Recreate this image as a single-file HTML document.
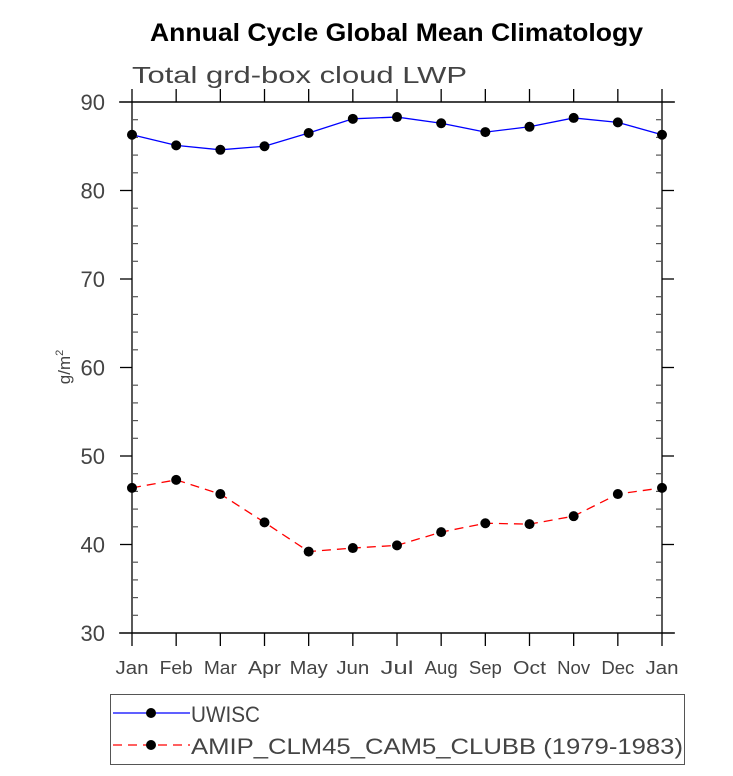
<!DOCTYPE html>
<html><head><meta charset="utf-8"><style>
body{margin:0;background:#fff;width:733px;height:771px;overflow:hidden}
text{font-family:"Liberation Sans",sans-serif}
</style></head><body>
<svg id="chart" width="733" height="771" viewBox="0 0 733 771" xmlns="http://www.w3.org/2000/svg">
<text x="150" y="41" textLength="493" lengthAdjust="spacingAndGlyphs" font-size="25" font-weight="bold" fill="#000">Annual Cycle Global Mean Climatology</text>
<text x="132" y="83" textLength="335" lengthAdjust="spacingAndGlyphs" font-size="23" fill="#444">Total grd-box cloud LWP</text>
<text transform="translate(70,367) rotate(-90)" text-anchor="middle" font-size="17" fill="#444">g/m<tspan font-size="11" dy="-7">2</tspan></text>
<g id="axes"></g>
<g id="series"></g>
<rect x="110.5" y="694.5" width="574" height="70" fill="none" stroke="#555" stroke-width="1"/>
<g>
<line x1="113" y1="713" x2="190" y2="713" stroke="#0000ff" stroke-width="1.3"/>
<circle cx="151" cy="713" r="5" fill="#000"/>
<text x="191" y="722" textLength="69" lengthAdjust="spacingAndGlyphs" font-size="22" fill="#444">UWISC</text>
</g>
<g>
<line x1="113" y1="745" x2="190" y2="745" stroke="#ff0000" stroke-width="1.3" stroke-dasharray="9,6"/>
<circle cx="151" cy="745" r="5" fill="#000"/>
<text x="191" y="754" textLength="492" lengthAdjust="spacingAndGlyphs" font-size="22" fill="#444">AMIP_CLM45_CAM5_CLUBB (1979-1983)</text>
</g>
</svg>
<script>
const months = ["Jan","Feb","Mar","Apr","May","Jun","Jul","Aug","Sep","Oct","Nov","Dec","Jan"];
const uwiscValues = [86.3,85.1,84.6,85.0,86.5,88.1,88.3,87.6,86.6,87.2,88.2,87.7,86.3];
const amipValues = [46.4,47.3,45.7,42.5,39.2,39.6,39.9,41.4,42.4,42.3,43.2,45.7,46.4];
const yTicks = [30,40,50,60,70,80,90];
const NS="http://www.w3.org/2000/svg";
const L=132,R=662,T=102,B=633,yMin=30,yMax=90;
const xs=i=>L+(R-L)*i/(months.length-1);
const ys=v=>B-(v-yMin)/(yMax-yMin)*(B-T);
function mk(tag,attrs,parent){const e=document.createElementNS(NS,tag);for(const k in attrs)e.setAttribute(k,attrs[k]);parent.appendChild(e);return e;}
const ax=document.getElementById('axes');
const frame=mk('rect',{x:L,y:T,width:R-L,height:B-T,fill:'none',stroke:'#000','stroke-width':1.3},ax);


mk('line',{x1:119,y1:T,x2:675,y2:T,stroke:'#000','stroke-width':1.3},ax);
mk('line',{x1:119,y1:B,x2:675,y2:B,stroke:'#000','stroke-width':1.3},ax);
months.forEach((m,i)=>{
  const x=xs(i);
  mk('line',{x1:x,y1:B,x2:x,y2:B+13,stroke:'#000','stroke-width':1.3},ax);
  mk('line',{x1:x,y1:T,x2:x,y2:T-13,stroke:'#000','stroke-width':1.3},ax);
  const t=mk('text',{x:x,y:B+41,'text-anchor':'middle','font-size':18,fill:'#444',textLength:m==='May'?38:33,lengthAdjust:'spacingAndGlyphs'},ax);
  t.textContent=m;
  
  
});
for(let v=yMin;v<=yMax;v+=2){
  const y=ys(v);
  if(v%10===0){
    mk('line',{x1:L-12,y1:y,x2:L,y2:y,stroke:'#000','stroke-width':1.3},ax);
    mk('line',{x1:R,y1:y,x2:R+12,y2:y,stroke:'#000','stroke-width':1.3},ax);
  } else {
    mk('line',{x1:L,y1:y,x2:L+6,y2:y,stroke:'#555','stroke-width':1.2},ax);
    mk('line',{x1:R-6,y1:y,x2:R,y2:y,stroke:'#555','stroke-width':1.2},ax);
  }
}
yTicks.forEach(v=>{
  const t=mk('text',{x:105,y:ys(v)+8,'text-anchor':'end','font-size':22,fill:'#444'},ax);
  t.textContent=v;
  
  
});
const sg=document.getElementById('series');
function series(vals,color,dash,name){
  const g=mk('g',{},sg);
  
  
  const pts=vals.map((v,i)=>xs(i)+','+ys(v)).join(' ');
  const a={points:pts,fill:'none',stroke:color,'stroke-width':1.3};
  if(dash)a['stroke-dasharray']=dash;
  mk('polyline',a,g);
  vals.forEach((v,i)=>{
    const c=mk('circle',{cx:xs(i),cy:ys(v),r:5,fill:'#000'},g);
    
    
  });
}
series(uwiscValues,'#0000ff',null,'uwisc-line');
series(amipValues,'#ff0000','9,6','amip-line');
</script>
</body></html>
